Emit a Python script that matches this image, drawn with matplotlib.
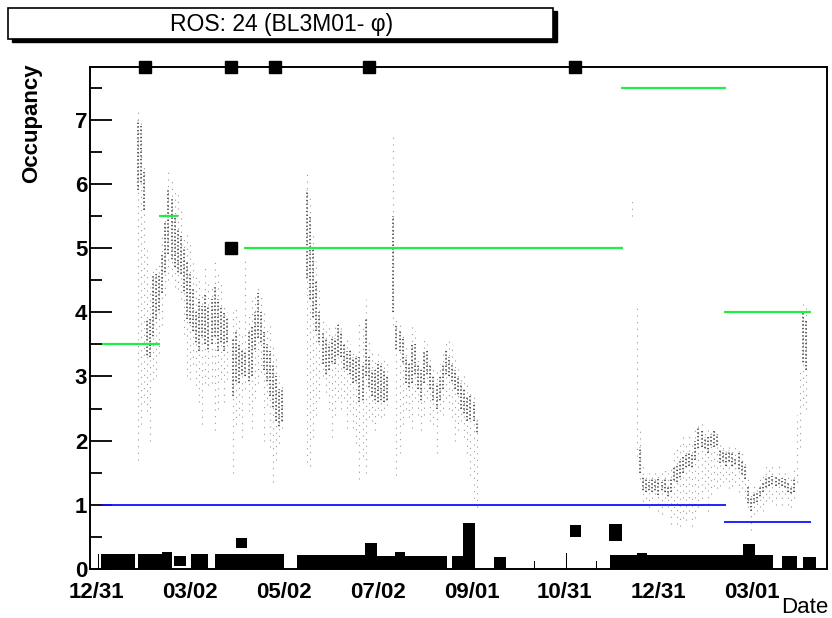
import numpy as np
import matplotlib.pyplot as plt
from matplotlib.patches import Rectangle

plt.rcParams['font.family'] = ['Liberation Sans', 'DejaVu Sans']

# x is in days counted from 12/31 of the first year
tick_days = [0, 61, 122, 183, 244, 304, 365, 426]
tick_labels = ['12/31', '03/02', '05/02', '07/02', '09/01', '10/31', '12/31', '03/01']

# occupancy cloud: per-day spread (lo/hi) and dense core (core_lo/core_hi)
cloud_day = [27, 29, 31, 33, 35, 37, 39, 41, 43, 45, 47, 49, 51, 53, 55, 57, 59, 61, 63, 65,
             67, 69, 71, 73, 75, 77, 79, 81, 83, 85, 89, 91, 93, 95, 97, 99, 101, 103, 105, 107,
             109, 111, 113, 115, 117, 119, 121,
             137, 139, 141, 143, 145, 147, 149, 151, 153, 155, 157, 159, 161, 163, 165, 167, 169,
             171, 173, 175, 177, 179, 181, 183, 185, 187, 189,
             193, 195, 197, 199, 201, 203, 205, 207, 209, 211, 213, 215, 217, 219, 221, 223, 225,
             227, 229, 231, 233, 235, 237, 239, 241, 243, 245, 247,
             348, 351, 353, 355, 357, 359, 361, 363, 365, 367, 369, 371, 373, 375, 377, 379, 381,
             383, 385, 387, 389, 391, 393, 395, 397, 399, 401, 403, 405, 407, 409, 411, 413, 415,
             417, 419, 421, 423, 425, 427, 429, 431, 433, 435, 437, 439, 441, 443, 445, 447, 449,
             451, 453, 455, 457, 459, 461]
cloud_lo = [1.7, 2.2, 2.6, 2.4, 2.0, 2.9, 3.0, 3.3, 3.8, 4.2, 4.5, 4.5, 4.4, 4.3, 4.2, 3.6, 3.0, 2.9, 3.2, 2.8,
            2.6, 2.2, 2.9, 2.8, 2.9, 2.1, 2.5, 2.9, 2.6, 2.9, 1.5, 2.2, 2.4, 2.0, 2.8, 2.4, 2.2, 2.6, 2.9, 3.0,
            2.0, 2.5, 1.9, 1.3, 1.7, 1.9, 2.2,
            1.6, 1.6, 2.0, 2.4, 2.6, 3.0, 2.7, 2.5, 2.0, 2.4, 2.6, 2.5, 2.6, 2.2, 2.4, 2.2, 1.9,
            1.4, 1.7, 1.5, 2.3, 2.3, 2.1, 2.4, 2.3, 2.4, 2.5,
            3.8, 1.4, 1.8, 2.2, 2.5, 2.3, 2.2, 2.6, 2.4, 2.1, 2.4, 2.6, 2.3, 2.2, 1.8, 2.4, 2.4,
            2.6, 2.5, 2.3, 2.0, 2.1, 2.3, 2.0, 1.8, 1.4, 1.0, 0.9,
            5.5, 1.7, 1.4, 1.0, 1.0, 0.9, 1.0, 1.1, 0.9, 0.8, 1.0, 0.9, 0.7, 0.8, 0.7, 0.6, 0.8,
            0.7, 0.9, 0.6, 0.8, 0.9, 1.0, 1.2, 0.9, 1.1, 1.3, 1.2, 1.3, 1.3, 1.4, 1.2, 1.3, 1.3,
            1.2, 1.2, 1.1, 0.9, 0.6, 0.8, 0.9, 0.9, 0.9, 1.0, 1.1, 1.0, 1.0, 1.1, 1.0, 1.1, 1.0,
            0.9, 1.1, 1.3, 1.9, 2.5, 2.5]
cloud_hi = [7.2, 7.0, 6.3, 5.0, 4.4, 4.7, 4.7, 4.8, 5.2, 5.6, 6.2, 6.1, 5.9, 5.9, 5.6, 5.2, 5.2, 5.1, 4.8, 4.6,
            4.5, 4.3, 4.7, 4.5, 4.4, 4.8, 4.6, 4.5, 4.1, 4.0, 4.0, 4.1, 3.9, 3.7, 4.8, 4.0, 4.2, 4.3, 4.4, 4.3,
            4.0, 3.8, 3.8, 3.5, 3.3, 3.0, 2.9,
            6.2, 5.8, 5.2, 4.8, 4.4, 3.9, 3.8, 3.8, 3.7, 3.8, 3.9, 3.8, 3.6, 3.6, 3.5, 3.4, 3.4,
            3.9, 3.8, 4.2, 3.6, 3.4, 3.3, 3.4, 3.3, 3.3, 3.2,
            6.8, 3.9, 3.8, 3.7, 3.5, 3.3, 3.8, 3.7, 3.3, 3.2, 3.6, 3.5, 3.3, 3.2, 3.1, 3.2, 3.4,
            3.6, 3.6, 3.5, 3.3, 3.2, 3.0, 3.0, 2.9, 2.8, 2.7, 2.4,
            5.75, 4.1, 2.2, 1.6, 1.5, 1.5, 1.5, 1.5, 1.5, 1.5, 1.6, 1.5, 1.6, 1.8, 1.9, 2.0, 2.1,
            2.0, 2.1, 2.0, 2.2, 2.3, 2.3, 2.2, 2.2, 2.2, 2.2, 2.2, 2.0, 1.9, 1.9, 1.9, 1.9, 1.9,
            1.9, 1.8, 1.7, 1.4, 1.2, 1.3, 1.3, 1.4, 1.5, 1.6, 1.6, 1.6, 1.5, 1.6, 1.5, 1.5, 1.5,
            1.4, 1.6, 2.4, 3.1, 4.2, 4.1]
nan = np.nan
core_lo = [5.9, 6.0, 5.6, 3.3, 3.3, 3.6, 3.9, 4.0, 4.3, 4.6, 4.9, 4.8, 4.7, 4.6, 4.6, 4.3, 3.9, 3.8, 3.7, 3.5,
           3.4, 3.6, 3.5, 3.4, 3.5, 3.6, 3.4, 3.5, 3.4, 3.5, 2.7, 2.9, 2.9, 3.0, 3.0, 2.9, 3.0, 3.4, 3.6, 3.5,
           3.1, 2.9, 2.7, 2.5, 2.3, 2.2, 2.3,
           4.5, 4.2, 3.9, 3.7, 3.5, 3.2, 3.0, 3.1, 3.2, 3.2, 3.3, 3.3, 3.1, 3.1, 3.0, 2.9, 2.9,
           2.6, 2.6, 3.0, 2.8, 2.7, 2.6, 2.6, 2.6, 2.6, 2.6,
           4.0, 3.4, 3.4, 3.2, 2.9, 2.8, 2.9, 3.0, 2.8, 2.6, 2.9, 3.0, 2.8, 2.6, 2.5, 2.6, 2.8,
           3.0, 3.0, 2.9, 2.8, 2.7, 2.5, 2.4, 2.3, 2.3, 2.3, 2.1,
           nan, nan, 1.5, 1.2, 1.2, 1.2, 1.2, 1.2, 1.15, 1.2, 1.2, 1.1, 1.2, 1.35, 1.35, 1.4, 1.5,
           1.55, 1.6, 1.55, 1.7, 1.85, 1.9, 1.85, 1.8, 1.9, 1.9, 1.9, 1.65, 1.65, 1.6, 1.65, 1.6, 1.6,
           1.55, 1.45, 1.4, 1.0, 0.9, 1.0, 1.05, 1.1, 1.2, 1.25, 1.3, 1.3, 1.3, 1.3, 1.3, 1.25, 1.2,
           1.15, 1.2, nan, nan, 3.2, 3.1]
core_hi = [7.0, 6.9, 6.2, 3.9, 3.9, 4.6, 4.6, 4.6, 4.9, 5.4, 5.9, 5.8, 5.5, 5.3, 5.2, 5.0, 4.8, 4.6, 4.4, 4.0,
           4.2, 4.1, 4.3, 4.1, 4.2, 4.4, 4.2, 4.1, 4.0, 3.9, 3.6, 3.7, 3.5, 3.4, 3.4, 3.7, 3.8, 4.0, 4.3, 4.0,
           3.7, 3.5, 3.4, 3.2, 3.0, 2.8, 2.8,
           5.9, 5.5, 5.0, 4.5, 4.0, 3.7, 3.6, 3.5, 3.6, 3.6, 3.8, 3.7, 3.5, 3.4, 3.4, 3.3, 3.3,
           3.3, 3.2, 3.9, 3.3, 3.1, 3.1, 3.2, 3.2, 3.1, 3.0,
           5.5, 3.8, 3.7, 3.6, 3.3, 3.2, 3.5, 3.5, 3.2, 3.1, 3.4, 3.4, 3.2, 3.0, 2.9, 3.0, 3.2,
           3.4, 3.3, 3.2, 3.1, 3.0, 2.9, 2.8, 2.7, 2.7, 2.6, 2.3,
           nan, nan, 1.9, 1.45, 1.4, 1.35, 1.4, 1.4, 1.4, 1.35, 1.4, 1.3, 1.4, 1.6, 1.6, 1.7, 1.75,
           1.8, 1.8, 1.8, 2.0, 2.2, 2.15, 2.05, 2.05, 2.1, 2.15, 2.1, 1.85, 1.85, 1.8, 1.85, 1.8, 1.75,
           1.8, 1.7, 1.6, 1.3, 1.1, 1.2, 1.2, 1.3, 1.35, 1.45, 1.45, 1.45, 1.45, 1.42, 1.42, 1.4, 1.35,
           1.3, 1.4, nan, nan, 4.0, 3.9]

# per-run summary blocks along the bottom
blk_start = [1.6, 3.2, 27.3, 42.8, 50.6, 61.6, 77.2, 90.9, 130.4, 174.6, 182.3, 194.0, 200.5,
             231.0, 238.2, 258.3, 284.0, 304.8, 307.6, 324.3, 332.9, 333.5, 351.0, 419.9,
             445.2, 458.8]
blk_end = [2.2, 25.3, 42.8, 49.3, 58.4, 72.7, 122.0, 98.0, 174.6, 182.3, 194.0, 200.5, 227.8,
           238.2, 246.0, 266.0, 284.6, 305.4, 314.7, 324.9, 341.3, 439.3, 357.6, 427.6,
           454.9, 467.2]
blk_bottom = [0.0, 0.0, 0.0, 0.0, 0.04, 0.0, 0.0, 0.33, 0.0, 0.0, 0.0, 0.0, 0.0,
              0.0, 0.0, 0.0, 0.0, 0.0, 0.50, 0.0, 0.43, 0.0, 0.0, 0.0, 0.0, 0.0]
blk_top = [0.24, 0.23, 0.23, 0.27, 0.20, 0.23, 0.23, 0.49, 0.22, 0.41, 0.21, 0.27, 0.21,
           0.21, 0.72, 0.18, 0.12, 0.25, 0.68, 0.12, 0.70, 0.22, 0.25, 0.39, 0.20, 0.18]

# upper limits (green) and lower limits (blue)
upper_start = [3.9, 40.9, 96.2, 340.7, 407.7]
upper_end = [41.5, 53.2, 341.7, 408.8, 464.0]
upper_val = [3.5, 5.5, 5.0, 7.5, 4.0]
lower_start = [3.9, 407.7]
lower_end = [408.8, 464.0]
lower_val = [1.0, 0.73]

# overflow markers drawn on the top edge, and one marker inside
ovf_day = [31.8, 87.6, 116.2, 177.2, 310.8]
mark_day = [87.6]
mark_val = [5.0]

YMAX = 7.82

fig = plt.figure(figsize=(8.32, 6.18), dpi=100)
ax = fig.add_axes([90 / 832, 1 - 569 / 618, 737 / 832, 502 / 618])

# spread dots (light) and dense core (dark); alternate dash phase so rows don't line up
phase = [0, 2.5]
for k in range(2):
    sl = slice(k, None, 2)
    ax.vlines(cloud_day[sl], cloud_lo[sl], cloud_hi[sl], colors='#9a9a9a', linewidth=0.8,
              linestyles=[(phase[k], (1, 5))])
    ax.vlines(cloud_day[sl], core_lo[sl], core_hi[sl], colors='#383838', linewidth=1.1,
              linestyles=[(phase[k] / 2, (0.9, 1.5))])

for s, e, b, t in zip(blk_start, blk_end, blk_bottom, blk_top):
    ax.bar(s, t - b, width=e - s, bottom=b, align='edge', color='black',
           edgecolor='none', zorder=3)

ax.hlines(upper_val, upper_start, upper_end, colors='#22ee44', linewidth=1.6, zorder=4)
ax.hlines(lower_val, lower_start, lower_end, colors='#1010ff', linewidth=1.3, zorder=4)

ax.plot(ovf_day, [YMAX] * len(ovf_day), 's', color='black', markersize=8,
        clip_on=False, zorder=5)
ax.plot(mark_day, mark_val, 's', color='black', markersize=8, zorder=5)

ax.set_xlim(-3.9, 474.4)
ax.set_ylim(0, YMAX)
ax.set_xticks(tick_days)
ax.set_xticklabels(tick_labels)
ax.set_yticks(range(0, 8))
ax.set_yticks(np.arange(0.5, 7.6, 1.0), minor=True)
ax.tick_params(axis='x', length=0, pad=9, labelsize=16)
ax.tick_params(axis='y', which='major', direction='in', length=16, width=1.3,
               pad=2, labelsize=16)
ax.tick_params(axis='y', which='minor', direction='in', length=8.5, width=1.3)
for lab in ax.get_xticklabels() + ax.get_yticklabels():
    lab.set_fontweight('bold')
for sp in ax.spines.values():
    sp.set_linewidth(1.4)

fig.text(32 / 832, 1 - 63 / 618, 'Occupancy', rotation=90, ha='center', va='top',
         fontsize=16, fontweight='bold')
fig.text(828 / 832, 1 - 613 / 618, 'Date', ha='right', va='baseline', fontsize=16)

# title box with drop shadow
fig.patches.append(Rectangle((12 / 832, 1 - 42 / 618), 545 / 832, 31 / 618,
                             transform=fig.transFigure, facecolor='black',
                             edgecolor='black', zorder=1))
fig.patches.append(Rectangle((8 / 832, 1 - 39 / 618), 545 / 832, 31 / 618,
                             transform=fig.transFigure, facecolor='white',
                             edgecolor='black', linewidth=1.2, zorder=2))
fig.text(282 / 832, 1 - 24 / 618, 'ROS: 24 (BL3M01- φ)', ha='center', va='center',
         fontsize=16.5)

fig.savefig('out.png', dpi=100)
